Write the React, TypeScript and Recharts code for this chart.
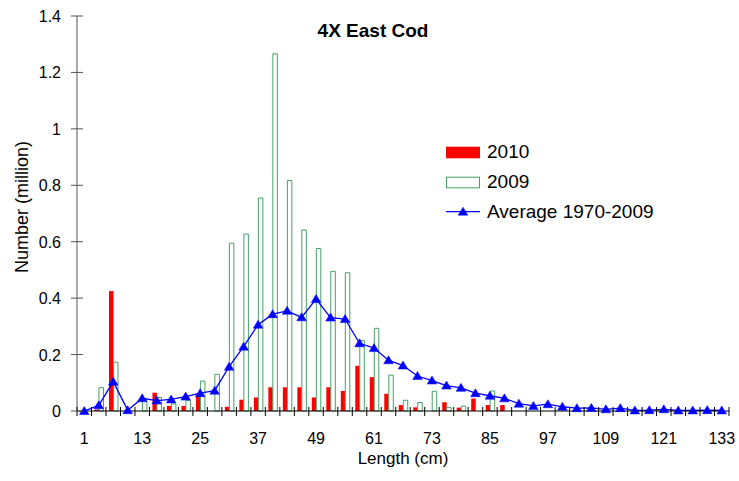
import React from "react";
import {
  ComposedChart,
  Bar,
  Line,
  XAxis,
  YAxis,
  Legend,
} from "recharts";

// length classes (cm), step 3
const LENGTHS = [
  1, 4, 7, 10, 13, 16, 19, 22, 25, 28, 31, 34, 37, 40, 43, 46, 49, 52, 55, 58,
  61, 64, 67, 70, 73, 76, 79, 82, 85, 88, 91, 94, 97, 100, 103, 106, 109, 112,
  115, 118, 121, 124, 127, 130, 133,
];

// numbers at length, million
const Y2010 = [
  0, 0.005, 0.425, 0, 0, 0.065, 0.018, 0.018, 0.053, 0, 0.015, 0.04, 0.048,
  0.084, 0.084, 0.084, 0.048, 0.084, 0.071, 0.16, 0.12, 0.061, 0.021, 0.013, 0,
  0.031, 0.012, 0.044, 0.021, 0.021, 0, 0, 0, 0, 0, 0, 0, 0, 0, 0, 0, 0, 0, 0,
  0,
];
const Y2009 = [
  0, 0.083, 0.173, 0, 0.04, 0.048, 0.025, 0.037, 0.106, 0.13, 0.595, 0.627,
  0.755, 1.266, 0.817, 0.642, 0.576, 0.495, 0.49, 0.25, 0.293, 0.127, 0.038,
  0.03, 0.07, 0.012, 0.017, 0, 0.071, 0, 0, 0, 0, 0, 0, 0, 0, 0, 0, 0, 0, 0, 0,
  0, 0,
];
const AVG_1970_2009 = [
  0, 0.02, 0.104, 0.003, 0.045, 0.037, 0.041, 0.051, 0.063, 0.072, 0.157,
  0.228, 0.306, 0.343, 0.355, 0.332, 0.397, 0.331, 0.326, 0.24, 0.223, 0.18,
  0.161, 0.124, 0.108, 0.09, 0.082, 0.063, 0.054, 0.045, 0.026, 0.018, 0.024,
  0.015, 0.01, 0.011, 0.006, 0.01, 0.002, 0.003, 0.006, 0.002, 0.002, 0.003,
  0.002,
];

const Y_TICKS = [0, 0.2, 0.4, 0.6, 0.8, 1, 1.2, 1.4];

const RED = "#ff0000";
const GREEN = "#47a06a";
const BLUE = "#0000ff";
const FONT = "'Liberation Sans', Arial, sans-serif";

// chart geometry, in page pixels (wrapper is pinned to the page corner)
const W = 739;
const H = 481;
const PLOT_LEFT = 77;
const PLOT_RIGHT = 729;
const PLOT_TOP = 16;
const PLOT_BOTTOM = 411;
const BAND = (PLOT_RIGHT - PLOT_LEFT) / LENGTHS.length;

const data = LENGTHS.map((len, i) => ({
  len,
  y2010: Y2010[i],
  y2009: Y2009[i],
  avg: AVG_1970_2009[i],
}));

function Triangle({ cx, cy, color }: { cx: number; cy: number; color: string }) {
  return (
    <polygon
      points={`${cx},${cy - 4.5} ${cx - 4.8},${cy + 3.5} ${cx + 4.8},${cy + 3.5}`}
      fill={color}
      stroke={color}
      strokeWidth={0.5}
    />
  );
}

function XTick(props: any) {
  const { x, payload } = props;
  const idx = Math.round((Number(payload.value) - 1) / 3);
  const left = x - BAND / 2;
  return (
    <g>
      <line x1={left} x2={left} y1={PLOT_BOTTOM - 4} y2={PLOT_BOTTOM + 5} stroke="#000" />
      {idx === LENGTHS.length - 1 && (
        <line x1={x + BAND / 2} x2={x + BAND / 2} y1={PLOT_BOTTOM - 4} y2={PLOT_BOTTOM + 5} stroke="#000" />
      )}
      {idx % 4 === 0 && (
        <text x={x} y={444} textAnchor="middle" fontSize={16} fontFamily={FONT} fill="#000">
          {payload.value}
        </text>
      )}
    </g>
  );
}

function YTick(props: any) {
  const { y, payload } = props;
  return (
    <g>
      <line x1={PLOT_LEFT - 6} x2={PLOT_LEFT + 6} y1={y} y2={y} stroke="#555" />
      <text x={61} y={y + 6} textAnchor="end" fontSize={16} fontFamily={FONT} fill="#000">
        {String(payload.value)}
      </text>
    </g>
  );
}

function LegendBox() {
  return (
    <svg width={240} height={95} style={{ display: "block" }}>
      <rect x={0} y={8.7} width={34} height={11.6} fill={RED} />
      <text x={41} y={20.3} fontSize={19} fontFamily={FONT} fill="#000">2010</text>
      <rect x={0.5} y={39.2} width={33} height={10.6} fill="#fff" stroke={GREEN} />
      <text x={41} y={50.3} fontSize={19} fontFamily={FONT} fill="#000">2009</text>
      <line x1={0} x2={34} y1={73.7} y2={73.7} stroke={BLUE} strokeWidth={1.2} />
      <Triangle cx={17} cy={73.7} color={BLUE} />
      <text x={41} y={80.3} fontSize={19} fontFamily={FONT} fill="#000">Average 1970-2009</text>
    </svg>
  );
}

export default function App() {
  return (
    <div style={{ position: "absolute", left: 0, top: 0, width: W, height: H }}>
      <ComposedChart
        width={W}
        height={H}
        data={data}
        margin={{ top: PLOT_TOP, right: W - PLOT_RIGHT, left: 0, bottom: 0 }}
        barCategoryGap="19%"
        barGap={0}
      >
        <XAxis
          dataKey="len"
          interval={0}
          height={H - PLOT_BOTTOM}
          axisLine={{ stroke: "#000" }}
          tickLine={false}
          tick={XTick}
          label={{
            content: () => (
              <text x={403} y={464} textAnchor="middle" fontSize={17} fontFamily={FONT} fill="#000">
                Length (cm)
              </text>
            ),
          }}
        />
        <YAxis
          width={PLOT_LEFT}
          domain={[0, 1.4]}
          ticks={Y_TICKS}
          interval={0}
          axisLine={{ stroke: "#555" }}
          tickLine={false}
          tick={YTick}
          label={{
            content: () => (
              <text
                x={28}
                y={207}
                transform="rotate(-90 28 207)"
                textAnchor="middle"
                fontSize={18}
                fontFamily={FONT}
                fill="#000"
              >
                Number (million)
              </text>
            ),
          }}
        />
        <Legend
          layout="horizontal"
          verticalAlign="middle"
          align="center"
          wrapperStyle={{ left: 446, top: 138, width: 240 }}
          content={() => <LegendBox />}
        />
        <Bar dataKey="y2010" name="2010" fill={RED} barSize={4.5} isAnimationActive={false} />
        <Bar
          dataKey="y2009"
          name="2009"
          fill="#ffffff"
          stroke={GREEN}
          strokeWidth={1}
          barSize={4.5}
          isAnimationActive={false}
        />
        <Line
          dataKey="avg"
          name="Average 1970-2009"
          type="linear"
          stroke={BLUE}
          strokeWidth={1.3}
          dot={(p: any) => <Triangle key={`t${p.index}`} cx={p.cx} cy={p.cy} color={BLUE} />}
          activeDot={false}
          isAnimationActive={false}
        />
        <text x={373} y={37} textAnchor="middle" fontSize={19} fontWeight="bold" fontFamily={FONT} fill="#000">
          4X East Cod
        </text>
      </ComposedChart>
    </div>
  );
}
